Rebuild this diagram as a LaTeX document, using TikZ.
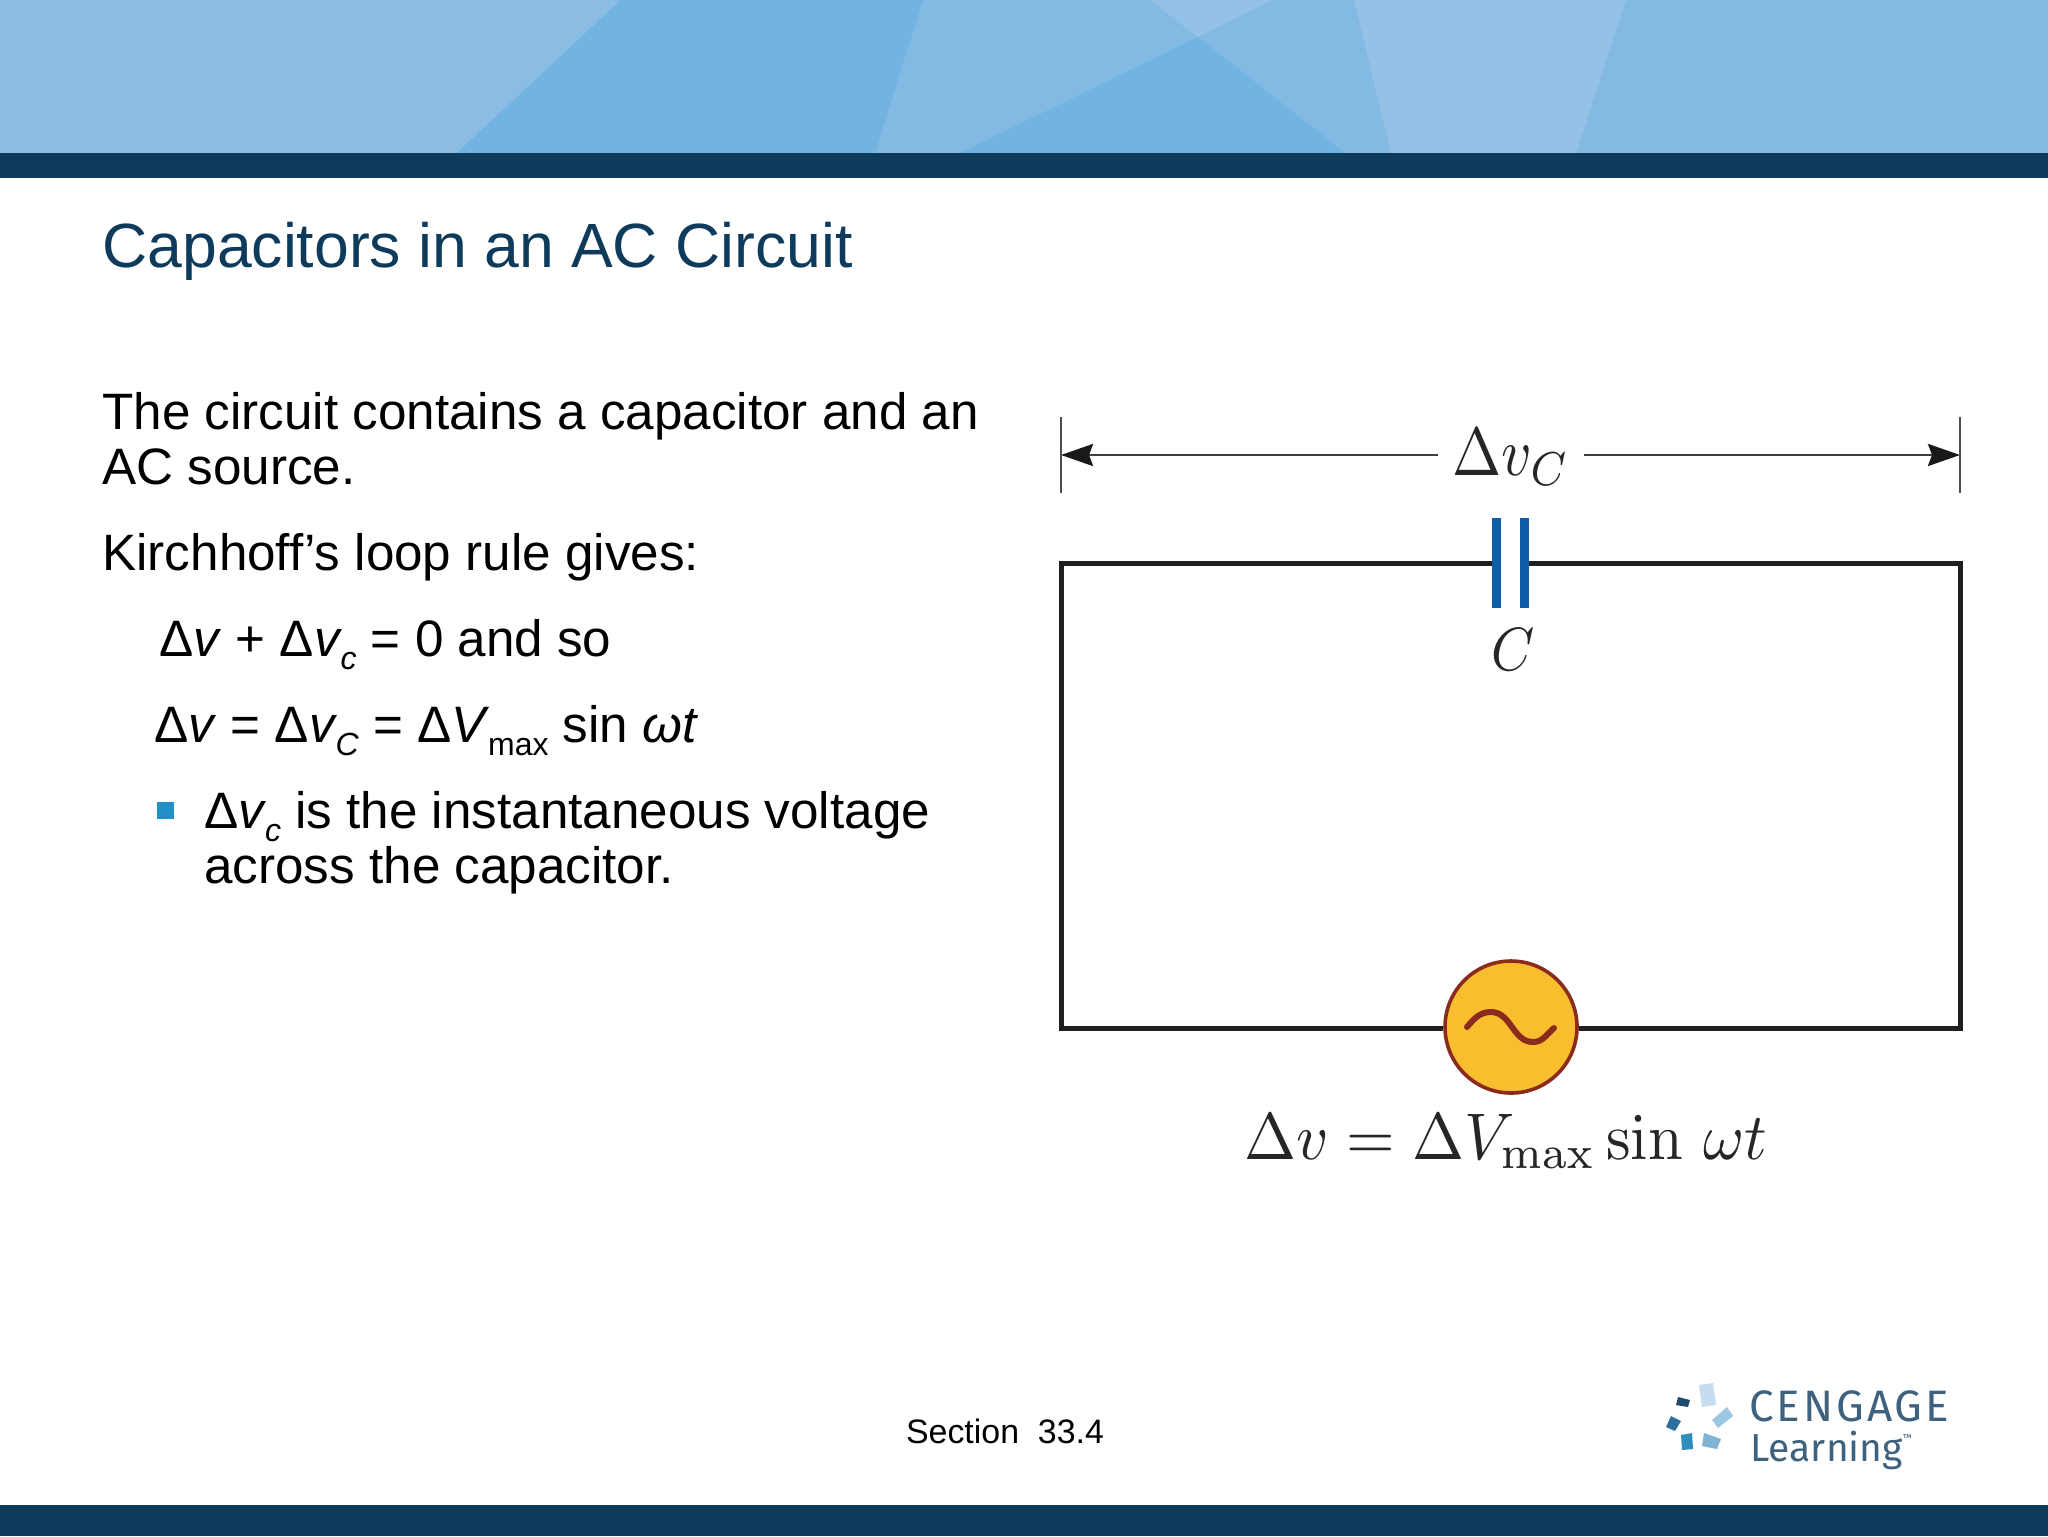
\documentclass[tikz,border=0pt]{standalone}
\usepackage[no-math]{fontspec}
\setmainfont{Liberation Sans}
\newfontfamily\logofont{Fira Sans}
\newfontfamily\logowide[LetterSpace=6.6]{Fira Sans}
\usetikzlibrary{arrows.meta}
\definecolor{navy}{HTML}{0E3A5C}
\definecolor{skybase}{HTML}{83BAE3}
\definecolor{skyleft}{HTML}{8ABCE4}
\definecolor{skydeep}{HTML}{71B4E1}
\definecolor{skypale}{HTML}{95C1E7}
\definecolor{bulletcol}{HTML}{2390C5}
\definecolor{platecol}{HTML}{0F5CA8}
\definecolor{srcfill}{HTML}{F9BE2E}
\definecolor{srcline}{HTML}{8A2B1E}
\newcommand{\sbs}[1]{\kern-.03em\raisebox{-.27em}{\fontsize{16}{16}\selectfont #1}}
\newcommand{\figtext}[3]{\scalebox{#1}[#2]{$#3$}}
\tikzset{
  body/.style={anchor=base west,inner sep=0pt,font=\fontsize{25.6}{28}\selectfont},
  wire/.style={line width=2.5pt,draw=black!88,line join=miter},
  plate/.style={line width=4.5pt,draw=platecol},
  dimline/.style={line width=1.4pt,draw=black!75,-{Stealth[length=16pt,width=11pt,inset=2pt,color=black!90]}},
  dimtick/.style={line width=.9pt,draw=black!70},
  eqn/.style={inner sep=0pt,text=black!85},
  shard/.style={line join=round}
}
\begin{document}
\begin{tikzpicture}[x=.5pt,y=-.5pt]
  \useasboundingbox (0,0) rectangle (2048,1536);
  \fill[white] (0,0) rectangle (2048,1536);
  % banner
  \fill[skybase] (0,0) rectangle (2048,153);
  \fill[skyleft] (0,0) -- (621,0) -- (457,153) -- (0,153) -- cycle;
  \fill[skydeep] (621,0) -- (923,0) -- (875,153) -- (457,153) -- cycle;
  \fill[skydeep] (1198,37) -- (1345,153) -- (960,153) -- cycle;
  \fill[skypale] (1150,0) -- (1273,0) -- (1198,37) -- cycle;
  \fill[skypale] (1354,0) -- (1626,0) -- (1576,153) -- (1391,153) -- cycle;
  \fill[navy] (0,153) rectangle (2048,178);
  \fill[navy] (0,1505) rectangle (2048,1536);
  % left column
  \node[anchor=base west,inner sep=0pt,font=\fontsize{31.25}{33}\selectfont,text=navy] (title) at (102,267) {Capacitors in an AC Circuit};
  \node[body] (line1) at (102,429) {The circuit contains a capacitor and an};
  \node[body] (line2) at (102,484) {AC source.};
  \node[body] (line3) at (102,570) {Kirchhoff’s loop rule gives:};
  \node[body] (line4) at (159,656) {Δ\textit{v} + Δ\textit{v}\sbs{\textit{c}} = 0 and so};
  \node[body] (line5) at (154,742) {Δ\textit{v} = Δ\textit{v}\sbs{\textit{C}} = Δ\textit{V}\sbs{max} sin \textit{ωt}};
  \fill[bulletcol] (157,802) rectangle (174,819);
  \node[body] (line6) at (204,828) {Δ\textit{v}\sbs{\textit{c}} is the instantaneous voltage};
  \node[body] (line7) at (204,883) {across the capacitor.};
  \node[anchor=base,inner sep=0pt,font=\fontsize{16.95}{19}\selectfont] (section) at (1005,1443) {Section\ \ 33.4};
  % circuit
  \coordinate (tl) at (1061,563);
  \coordinate (tr) at (1960,563);
  \coordinate (bl) at (1061,1028);
  \coordinate (br) at (1960,1028);
  \coordinate (plL) at (1496,563);
  \coordinate (plR) at (1524,563);
  \node[circle,draw=srcline,line width=1.8pt,fill=srcfill,minimum size=66pt,inner sep=0pt] (src) at (1511,1027) {};
  \draw[wire] (src.west |- bl) -- (bl) -- (tl) -- (plL);
  \draw[wire] (plR) -- (tr) -- (br) -- (src.east |- br);
  \draw[plate] (1496,518) -- (1496,608);
  \draw[plate] (1524,518) -- (1524,608);
  \draw[srcline,line width=3pt,line cap=round] (1467,1027) to[out=50,in=180] (1491,1012)
    to[out=0,in=180] (1533,1042) to[out=0,in=220] (1554,1028);
  % labels
  \node[eqn,minimum width=72.5pt,minimum height=30pt] (dvc) at (1511,457) {\figtext{2.95}{3.4}{\Delta v_C}};
  \coordinate (endL) at (1061,455);
  \coordinate (endR) at (1960,455);
  \draw[dimline] (dvc.west |- endL) -- (endL);
  \draw[dimline] (dvc.east |- endR) -- (endR);
  \draw[dimtick] (1061,417) -- (1061,493);
  \draw[dimtick] (1960,417) -- (1960,493);
  \node[eqn,anchor=base] (clabel) at (1513,670) {\figtext{2.75}{3.05}{C}};
  \node[eqn,anchor=base] (vlabel) at (1506,1159) {\figtext{3.12}{3.3}{\Delta v = \Delta V_{\max} \sin\, \omega t}};
  % logo
  \fill[shard,fill={rgb,255:red,197;green,221;blue,238}] (1699,1385) -- (1713,1383) -- (1716,1405) -- (1702,1407) -- cycle;
  \fill[shard,fill={rgb,255:red,31;green,74;blue,107}] (1678,1397) -- (1690,1400) -- (1688,1407) -- (1676,1405) -- cycle;
  \fill[shard,fill={rgb,255:red,156;green,199;blue,226}] (1727,1407) -- (1733,1416) -- (1718,1428) -- (1712,1420) -- cycle;
  \fill[shard,fill={rgb,255:red,47;green,111;blue,159}] (1671,1416) -- (1681,1421) -- (1675,1431) -- (1666,1427) -- cycle;
  \fill[shard,fill={rgb,255:red,46;green,143;blue,191}] (1681,1435) -- (1692,1433) -- (1693,1449) -- (1682,1450) -- cycle;
  \fill[shard,fill={rgb,255:red,127;green,180;blue,213}] (1704,1433) -- (1721,1439) -- (1717,1449) -- (1702,1446) -- cycle;
  \node[anchor=base west,inner sep=0pt,font=\logowide\fontsize{22}{24}\selectfont,text=navy!80] (cengage) at (1749,1421) {CENGAGE};
  \node[anchor=base west,inner sep=0pt,font=\logofont\fontsize{19.5}{21}\selectfont,text=navy!80] (learning) at (1750,1461) {Learning\raisebox{.5em}{\fontsize{5}{5}\selectfont ™}};
\end{tikzpicture}
\end{document}
